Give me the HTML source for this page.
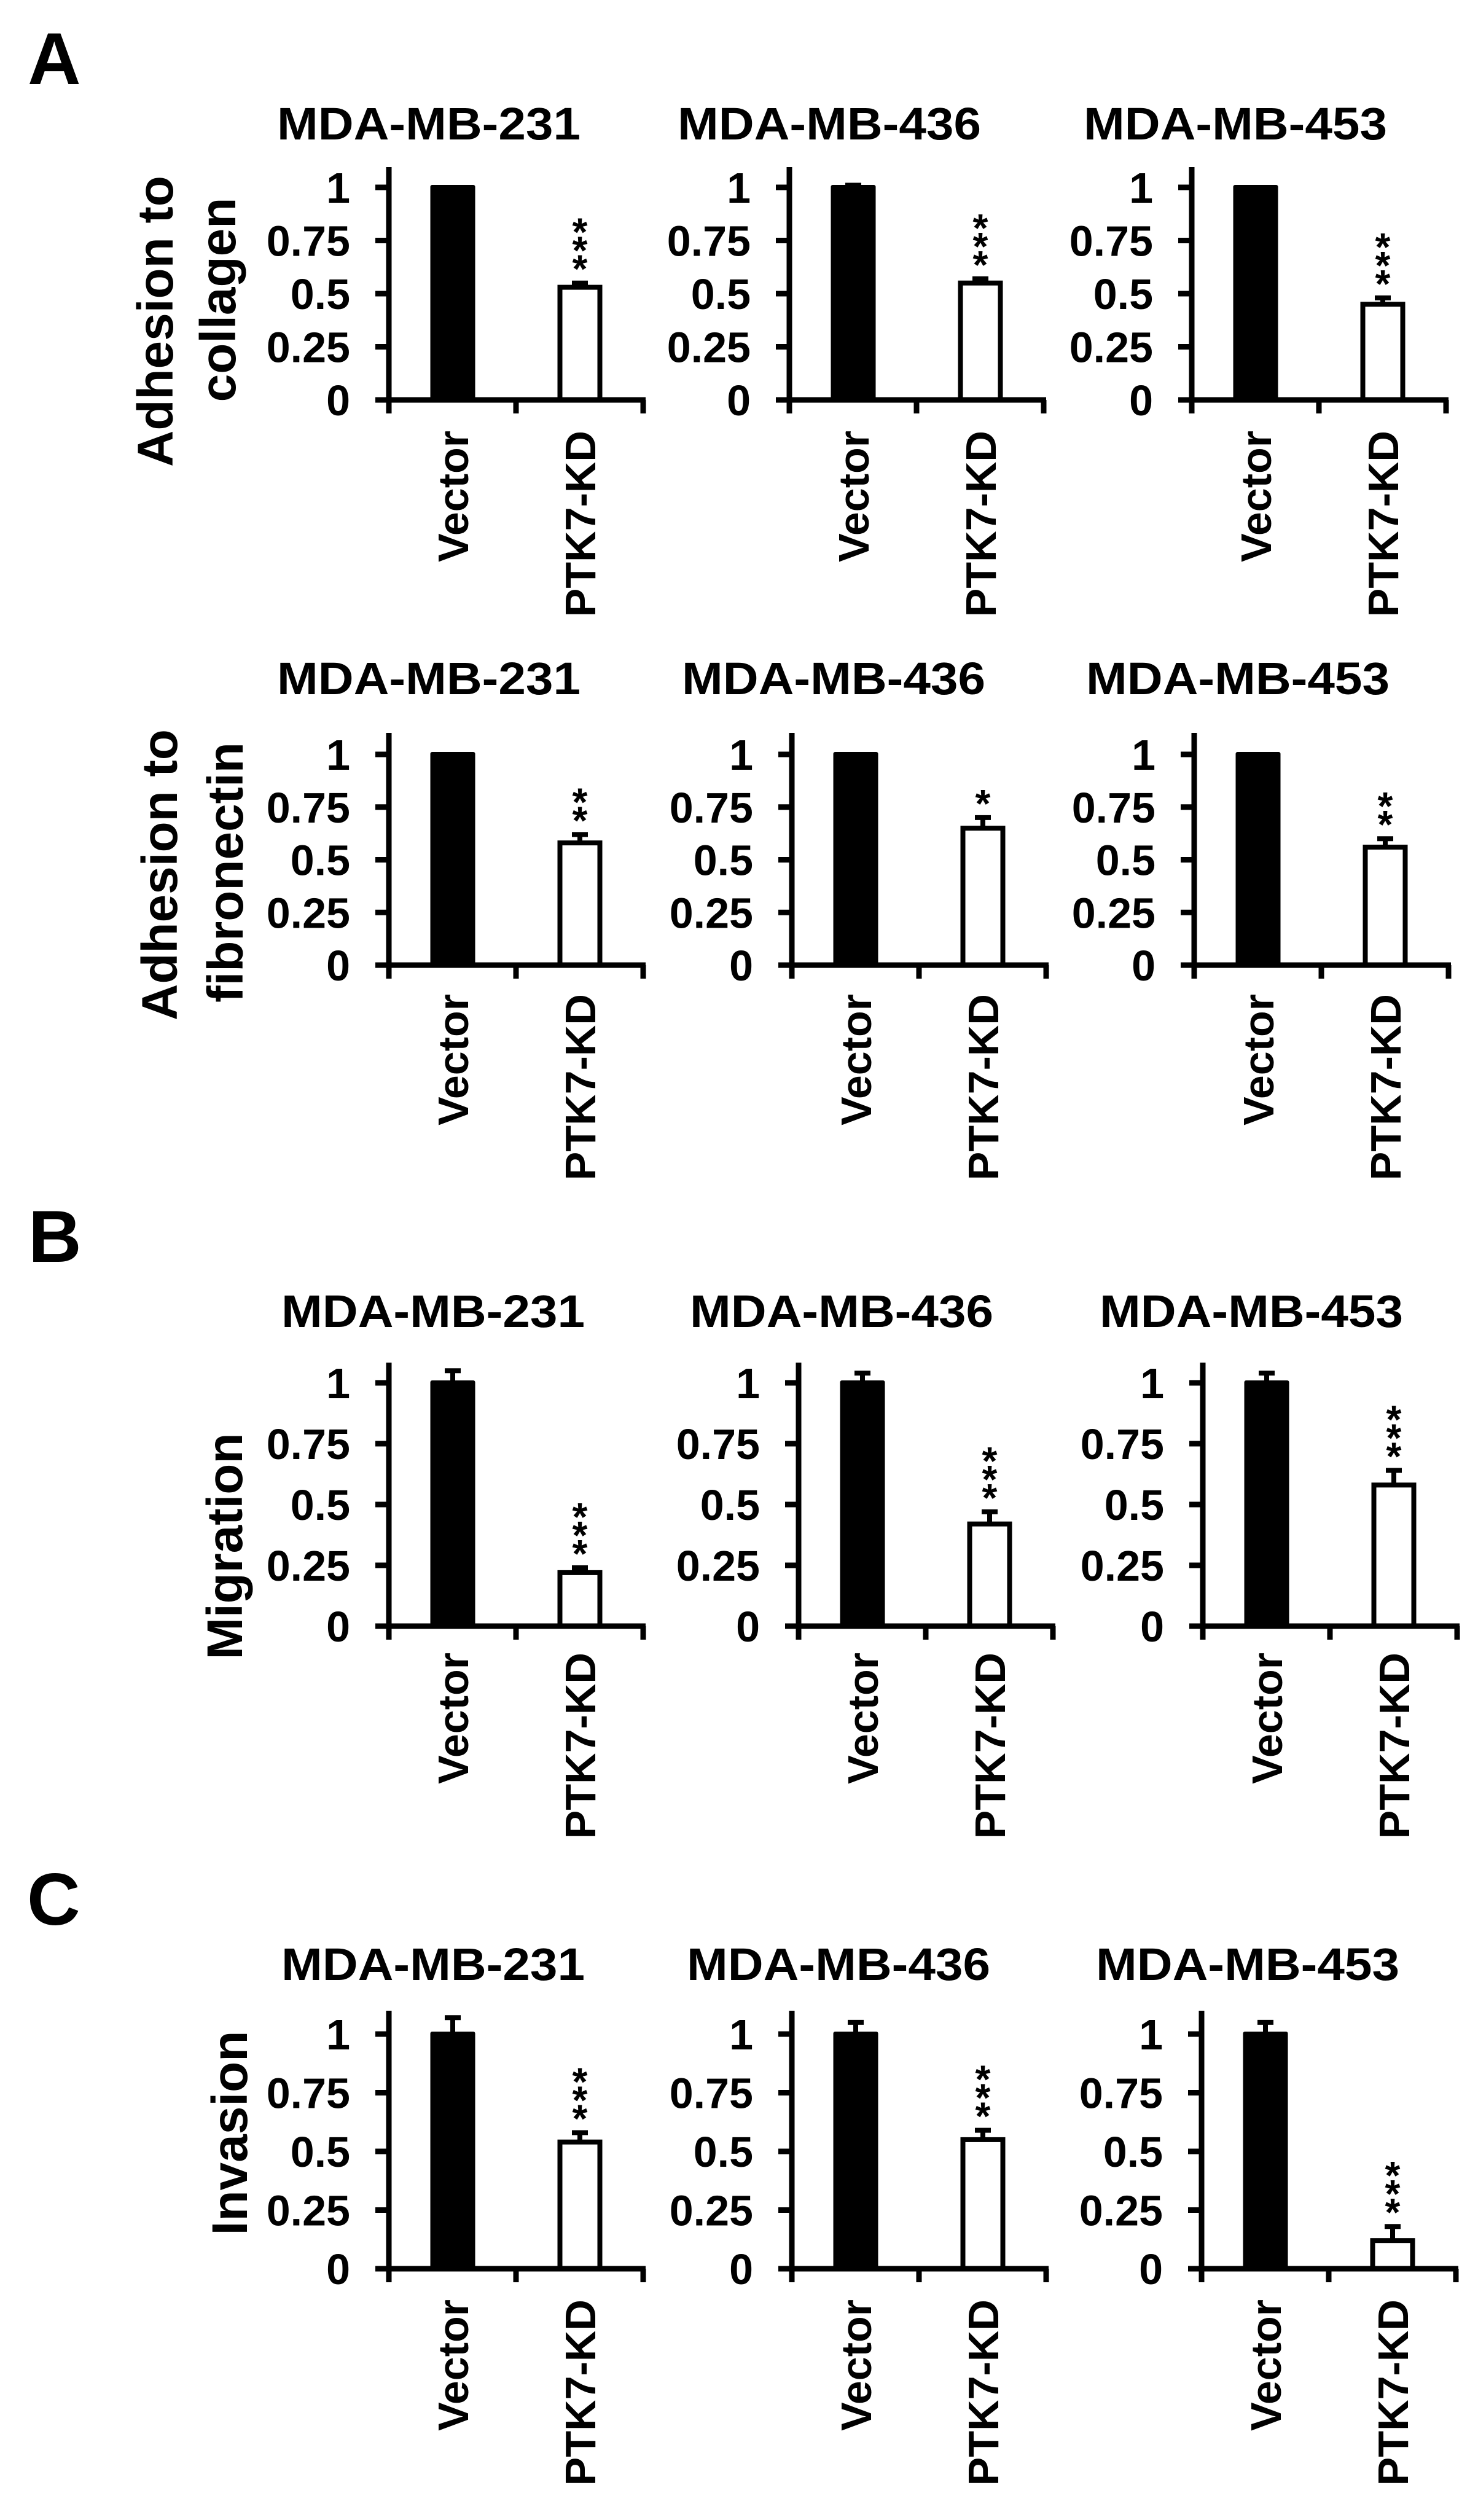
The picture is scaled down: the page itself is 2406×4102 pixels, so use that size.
<!DOCTYPE html>
<html><head><meta charset="utf-8"><title>PTK7 knockdown: adhesion, migration, invasion</title>
<style>
html,body{margin:0;padding:0;background:#fff;}
svg{display:block;font-family:"Liberation Sans",Arial,sans-serif;font-weight:bold;}
</style></head>
<body>
<svg id="fig" width="2406" height="4102" viewBox="0 0 2406 4102" xmlns="http://www.w3.org/2000/svg">
<rect width="2406" height="4102" fill="#fff"/>
<text x="45" y="137" font-size="120">A</text>
<text x="46" y="2054" font-size="120">B</text>
<text x="44" y="3133" font-size="120">C</text>
</svg>
<script>
// ---- data ----
const categories = ["Vector", "PTK7-KD"];
const cellLines = ["MDA-MB-231", "MDA-MB-436", "MDA-MB-453"];
const yTicks = [0, 0.25, 0.5, 0.75, 1];
const yTickLabels = ["0", "0.25", "0.5", "0.75", "1"];
const rowMetrics = ["collagen", "fibronectin", "migration", "invasion"];
// vector means per row (3 cell lines each)
const vectorCollagen = [1, 1, 1];
const vectorFibronectin = [1, 1, 1];
const vectorMigration = [1, 1, 1];
const vectorInvasion = [1, 1, 1];
// PTK7-KD means
const kdCollagen = [0.53, 0.55, 0.45];
const kdFibronectin = [0.58, 0.65, 0.56];
const kdMigration = [0.22, 0.42, 0.58];
const kdInvasion = [0.54, 0.55, 0.12];
// error bars (upper)
const vectorErrCollagen = [0.0, 0.01, 0.0];
const vectorErrFibronectin = [0.0, 0.0, 0.0];
const vectorErrMigration = [0.05, 0.04, 0.04];
const vectorErrInvasion = [0.07, 0.05, 0.05];
const kdErrCollagen = [0.02, 0.02, 0.03];
const kdErrFibronectin = [0.04, 0.05, 0.04];
const kdErrMigration = [0.02, 0.05, 0.06];
const kdErrInvasion = [0.04, 0.04, 0.06];
// significance
const starsCollagen = ["***", "***", "***"];
const starsFibronectin = ["**", "*", "**"];
const starsMigration = ["***", "***", "***"];
const starsInvasion = ["***", "***", "***"];

const vectorRows = [vectorCollagen, vectorFibronectin, vectorMigration, vectorInvasion];
const kdRows = [kdCollagen, kdFibronectin, kdMigration, kdInvasion];
const vErrRows = [vectorErrCollagen, vectorErrFibronectin, vectorErrMigration, vectorErrInvasion];
const kErrRows = [kdErrCollagen, kdErrFibronectin, kdErrMigration, kdErrInvasion];
const starRows = [starsCollagen, starsFibronectin, starsMigration, starsInvasion];

// ---- layout ----
const rows = [
  {t1:305, z:651, top:272, ty:227, xl:701, x0:[633,1285,1940], tx:[698,1350,2011],
   yl:[{s:"Adhesion to", x:281, c:523},{s:"collagen", x:383, c:488}]},
  {t1:1228, z:1571, top:1193, ty:1130, xl:1618, x0:[633,1289,1944], tx:[698,1357,2015],
   yl:[{s:"Adhesion to", x:288, c:1424},{s:"fibronectin", x:395, c:1420}]},
  {t1:2251, z:2647, top:2218, ty:2160, xl:2690, x0:[633,1300,1958], tx:[705,1370,2037],
   yl:[{s:"Migration", x:394, c:2517}]},
  {t1:3311, z:3693, top:3273, ty:3223, xl:3743, x0:[633,1289,1956], tx:[705,1365,2031],
   yl:[{s:"Invasion", x:402, c:3472}]}
];
const NS = "http://www.w3.org/2000/svg";
const svg = document.getElementById("fig");
function mk(tag, attrs, parent) {
  const e = document.createElementNS(NS, tag);
  for (const k in attrs) e.setAttribute(k, attrs[k]);
  (parent || svg).appendChild(e);
  return e;
}
const BAR_W = 73, W = 418;

rows.forEach((r, ri) => {
  const yScale = v => r.z - v * (r.z - r.t1);
  r.yl.forEach(l => {
    const t = mk("text", {x: l.x, y: l.c, "font-size": 82, "text-anchor": "middle", transform: `rotate(-90 ${l.x} ${l.c})`});
    
    
    t.textContent = l.s;
  });
  for (let ci = 0; ci < 3; ci++) {
    const x0 = r.x0[ci];
    const xScale = i => x0 + 104 + i * 207;
    const g = mk("g", {});
    
    
    const title = mk("text", {x: r.tx[ci], y: r.ty, "font-size": 74, "text-anchor": "middle", textLength: 494, lengthAdjust: "spacingAndGlyphs"}, g);
    
    
    title.textContent = cellLines[ci];
    const vals = [vectorRows[ri][ci], kdRows[ri][ci]];
    const errs = [vErrRows[ri][ci], kErrRows[ri][ci]];
    vals.forEach((v, i) => {
      const cx = xScale(i);
      const yt = yScale(v);
      const e = errs[i];
      if (e > 0) {
        const ye = yScale(v + e);
        const eb = mk("path", {d: `M${cx} ${yt} V${ye} M${cx-13} ${ye} H${cx+13}`, stroke: "#000", "stroke-width": 8, fill: "none"}, g);
        
        
      }
      const b = i === 0
        ? mk("rect", {x: cx - BAR_W/2, y: yt - 4, width: BAR_W, height: r.z - yt + 4, fill: "#000", rx: 3}, g)
        : mk("rect", {x: cx - BAR_W/2 + 4, y: yt, width: BAR_W - 8, height: r.z - yt, fill: "#fff", stroke: "#000", "stroke-width": 8}, g);
      
      
      const lx = cx + 25, ly = r.xl;
      const xl = mk("text", {x: lx, y: ly, "font-size": 70, "text-anchor": "end", transform: `rotate(-90 ${lx} ${ly})`}, g);
      
      
      xl.textContent = categories[i];
    });
    // significance stars, stacked vertically above the KD error bar
    const s = starRows[ri][ci];
    const kx = xScale(1);
    const base = yScale(vals[1] + errs[1]) - 22;
    const sg = mk("g", {}, g);
    
    
    for (let k = 0; k < s.length; k++) {
      const cy = base - 15 - k * 30;
      const st = mk("text", {x: kx, y: cy + 36, "font-size": 64, "text-anchor": "middle"}, sg);
      st.textContent = s[k];
    }
    const ax = mk("path", {d: `M${x0} ${r.top} V${r.z} M${x0-22} ${r.z} H${x0+W} M${x0} ${r.z} V${r.z+22} M${x0+207} ${r.z} V${r.z+22} M${x0+W-4} ${r.z} V${r.z+22}`, stroke: "#000", "stroke-width": 9, fill: "none"}, g);
    
    
    yTicks.forEach((tv, ti) => {
      const ty = yScale(tv);
      const tk = mk("line", {x1: x0 - 22, x2: x0, y1: ty, y2: ty, stroke: "#000", "stroke-width": 9}, g);
      
      
      const tl = mk("text", {x: x0 - 63, y: ty + 25, "font-size": 70, "text-anchor": "end"}, g);
      
      
      tl.textContent = yTickLabels[ti];
    });
  }
});
</script>
</body></html>
